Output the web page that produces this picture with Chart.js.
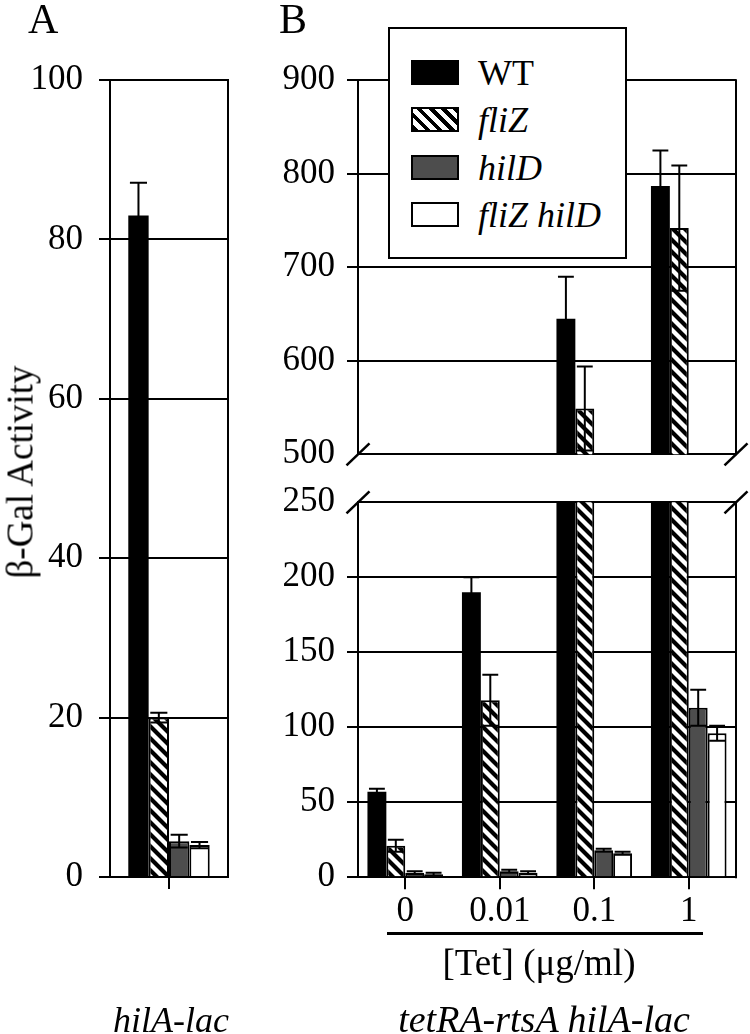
<!DOCTYPE html>
<html><head><meta charset="utf-8">
<script src="https://cdn.jsdelivr.net/npm/chart.js@4"></script>
<style>
html,body{margin:0;padding:0;background:#fff;}
body{width:750px;height:1034px;position:relative;overflow:hidden;font-family:'Liberation Serif','Times New Roman',serif;color:#000;}
canvas{position:absolute;}
.t{position:absolute;line-height:1;white-space:nowrap;}
.c{transform:translateX(-50%);}
.i{font-style:italic;}
</style></head><body>
<canvas id="cA" width="250" height="1034" style="left:0;top:0"></canvas>
<canvas id="cBt" width="510" height="490" style="left:240px;top:0"></canvas>
<canvas id="cBb" width="510" height="574" style="left:240px;top:460px"></canvas>

<div class="t" style="left:28px;top:-2px;font-size:42px;">A</div>
<div class="t" style="left:279px;top:-2px;font-size:42px;">B</div>
<div class="t" style="left:19.5px;top:472px;font-size:37px;transform:translate(-50%,-50%) rotate(-90deg);">β-Gal Activity</div>
<div style="position:absolute;left:387px;top:932px;width:316px;height:2.5px;background:#000;"></div>
<div class="t c" style="left:539px;top:944px;font-size:37px;">[Tet] (μg/ml)</div>
<div class="t c i" style="left:171px;top:1002px;font-size:36px;">hilA-lac</div>
<div class="t c i" style="left:544px;top:1000px;font-size:38px;">tetRA-rtsA hilA-lac</div>
<div id="legend" style="position:absolute;left:388px;top:27px;width:239px;height:232px;border:2.5px solid #000;box-sizing:border-box;background:#fff;z-index:2;"></div>

<script>
// ---- data ----
const seriesNames = ['WT', 'fliZ', 'hilD', 'fliZ hilD'];
const seriesItalic = [false, true, true, true];

// Panel A (hilA-lac)
const catsA = [''];
const wtA = [83];
const flizA = [20];
const hildA = [4.5];
const flizhildA = [4.0];
const wtAErr = [4.1];
const flizAErr = [0.6];
const hildAErr = [0.8];
const flizhildAErr = [0.4];
const ticksA = [0, 20, 40, 60, 80, 100];

// Panel B (tetRA-rtsA hilA-lac), [Tet] (µg/ml)
const conc = ['0', '0.01', '0.1', '1'];
const wtB = [57, 190, 645, 787];
const flizB = [21, 118, 549, 742];
const hildB = [3, 4, 18, 113];
const flizhildB = [2, 3, 16, 96];
const wtBErr = [2, 10, 45, 38];
const flizBErr = [4, 17, 45, 67];
const hildBErr = [1, 1, 1, 12];
const flizhildBErr = [1, 1, 1, 5];
const ticksBTop = [500, 600, 700, 800, 900];
const ticksBBottom = [0, 50, 100, 150, 200, 250];

// ---- styles ----
function makeHatch() {
  const s = 12;
  const c = document.createElement('canvas'); c.width = s; c.height = s;
  const g = c.getContext('2d');
  g.fillStyle = '#fff'; g.fillRect(0, 0, s, s);
  g.strokeStyle = '#000'; g.lineWidth = 4.2; g.lineCap = 'square';
  g.beginPath();
  g.moveTo(-s, -s); g.lineTo(2 * s, 2 * s);
  g.moveTo(-s, 0); g.lineTo(s, 2 * s);
  g.moveTo(0, -s); g.lineTo(2 * s, s);
  g.stroke();
  return g.createPattern(c, 'repeat');
}
const hatch = makeHatch();
const fills = ['#000', hatch, '#4d4d4d', '#fff'];
const borders = [0, 2, 2, 2];
const FONT = { family: "'Liberation Serif', 'Times New Roman', serif", size: 35 };

// ---- plugins ----
const errorBars = {
  id: 'errorBars',
  afterDatasetsDraw(chart) {
    const { ctx, chartArea: a } = chart;
    const ys = chart.scales.y;
    ctx.save();
    ctx.beginPath();
    ctx.rect(a.left, a.top - 1, a.right - a.left, a.bottom - a.top + 2);
    ctx.clip();
    ctx.strokeStyle = '#000'; ctx.lineWidth = 2;
    chart.data.datasets.forEach((ds, di) => {
      const meta = chart.getDatasetMeta(di);
      meta.data.forEach((bar, i) => {
        const v = ds.data[i], e = ds.errors ? ds.errors[i] : null;
        if (v == null || e == null) return;
        const x = bar.x, hw = bar.width * 0.42;
        const y1 = ys.getPixelForValue(v + e), y2 = ys.getPixelForValue(v - e);
        ctx.beginPath();
        ctx.moveTo(x, y1); ctx.lineTo(x, y2);
        ctx.moveTo(x - hw, y1); ctx.lineTo(x + hw, y1);
        ctx.moveTo(x - hw, y2); ctx.lineTo(x + hw, y2);
        ctx.stroke();
      });
    });
    ctx.restore();
  }
};
const frame = {
  id: 'frame',
  afterDraw(chart, args, opts) {
    const { ctx, chartArea: a } = chart;
    ctx.save();
    ctx.strokeStyle = '#000'; ctx.lineWidth = 2;
    ctx.beginPath(); ctx.moveTo(a.right, a.top - 1); ctx.lineTo(a.right, a.bottom + 1); ctx.stroke();
    if (opts.breakAt) {
      const y = opts.breakAt === 'bottom' ? a.bottom : a.top;
      ctx.lineWidth = 2.5;
      [a.left, a.right].forEach(x => {
        ctx.beginPath(); ctx.moveTo(x - 11.5, y + 11); ctx.lineTo(x + 11.5, y - 11); ctx.stroke();
      });
    }
    ctx.restore();
  }
};

function datasets(vals, errs, catPct) {
  return vals.map((d, k) => ({
    label: seriesNames[k], data: d, errors: errs[k],
    backgroundColor: fills[k], borderColor: '#000', borderWidth: borders[k],
    barPercentage: 1.0, categoryPercentage: catPct
  }));
}
function yScale(min, max, ticks, width, pad, hidden) {
  return {
    min, max,
    afterBuildTicks(s) { s.ticks = ticks.map(v => ({ value: v })); },
    ticks: { font: FONT, color: '#000', padding: pad },
    grid: { color: '#000', lineWidth: 2, tickLength: 11, tickWidth: 2,
      tickColor: c => (c.tick && hidden.includes(c.tick.value)) ? 'rgba(0,0,0,0)' : '#000' },
    border: { display: true, color: '#000', width: 2 },
    afterFit(s) { s.width = width; }
  };
}
function xScale(show) {
  const sc = {
    display: show, offset: true,
    grid: { offset: false, drawOnChartArea: false, drawTicks: true, tickLength: 12, color: '#000', lineWidth: 2 },
    border: { display: true, color: '#000', width: 2 },
    ticks: { font: FONT, color: '#000', padding: 2, maxRotation: 0, autoSkip: false }
  };
  if (show) sc.afterFit = s => { s.height = 60; };
  else sc.afterFit = s => { s.height = 0; };
  return sc;
}
function baseOpts(padding, y, x, breakAt) {
  return {
    responsive: false, animation: false, devicePixelRatio: 1,
    layout: { padding, autoPadding: false },
    plugins: { legend: { display: false }, tooltip: { enabled: false }, frame: { breakAt } },
    scales: { x, y }
  };
}

// Panel A
new Chart(document.getElementById('cA'), {
  type: 'bar',
  data: { labels: catsA, datasets: datasets([wtA, flizA, hildA, flizhildA], [wtAErr, flizAErr, hildAErr, flizhildAErr], 0.69) },
  options: baseOpts({ top: 80, right: 22, bottom: 97, left: 0 }, yScale(0, 100, ticksA, 110, 16, []), xScale(true), null),
  plugins: [errorBars, frame]
});

// Panel B top (500-900)
const topOnly = a => a.map(v => v >= 500 ? v : null);
new Chart(document.getElementById('cBt'), {
  type: 'bar',
  data: { labels: conc, datasets: datasets([topOnly(wtB), topOnly(flizB), topOnly(hildB), topOnly(flizhildB)], [wtBErr, flizBErr, hildBErr, flizhildBErr], 0.8) },
  options: baseOpts({ top: 80.3, right: 14, bottom: 35.7, left: 0 }, yScale(500, 900, ticksBTop, 118, 12, [500]), xScale(false), 'bottom'),
  plugins: [errorBars, frame]
});

// Panel B bottom (0-250)
new Chart(document.getElementById('cBb'), {
  type: 'bar',
  data: { labels: conc, datasets: datasets([wtB, flizB, hildB, flizhildB], [wtBErr, flizBErr, hildBErr, flizhildBErr], 0.8) },
  options: baseOpts({ top: 42.3, right: 14, bottom: 96.7, left: 0 }, yScale(0, 250, ticksBBottom, 118, 12, [250]), xScale(true), 'top'),
  plugins: [errorBars, frame]
});

// Legend (HTML)
const swatchBg = ['#000', 'repeating-linear-gradient(45deg,#000 0 4.2px,#fff 4.2px 8.5px)', '#4d4d4d', '#fff'];
const baselines = [85, 132, 180, 227];
seriesNames.forEach((name, k) => {
  const sw = document.createElement('div');
  sw.style.cssText = `position:absolute;z-index:3;left:411px;top:${baselines[k] - 25}px;width:48px;height:25px;box-sizing:border-box;border:2.5px solid #000;background:${swatchBg[k]};`;
  document.body.appendChild(sw);
  const tx = document.createElement('div');
  tx.className = 't' + (seriesItalic[k] ? ' i' : '');
  tx.style.cssText += `z-index:3;left:478px;top:${baselines[k] - 30.15}px;font-size:36px;`;
  tx.textContent = name;
  document.body.appendChild(tx);
});
</script>
</body></html>
